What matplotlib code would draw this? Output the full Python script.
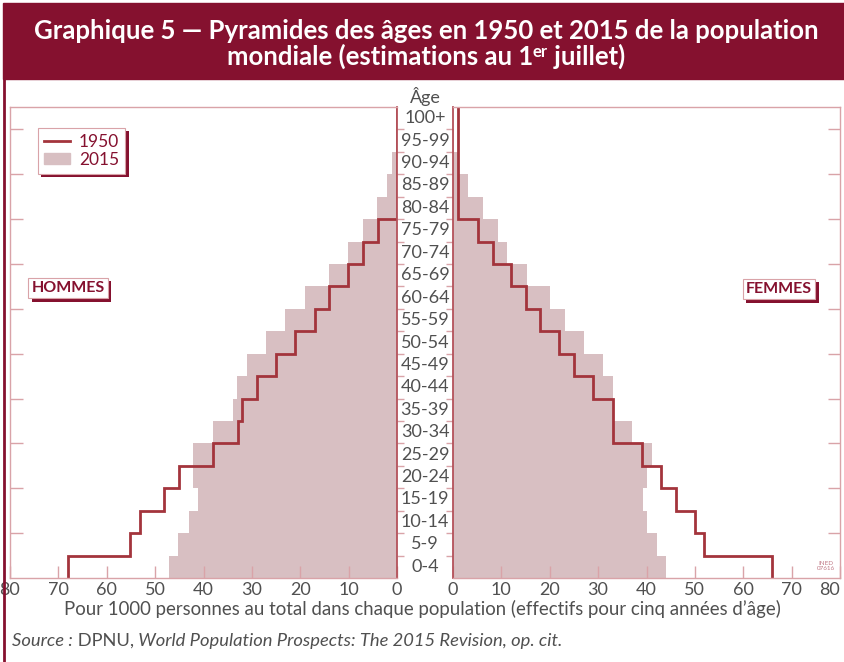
import matplotlib
matplotlib.use('Agg')
import matplotlib.pyplot as plt
import numpy as np
from matplotlib import font_manager
from matplotlib import patheffects as pe
from matplotlib.lines import Line2D
from matplotlib.patches import Patch, Rectangle
from matplotlib.transforms import blended_transform_factory

# pick a narrow font if there is one
names = {f.name for f in font_manager.fontManager.ttflist}
FONT = 'Liberation Sans Narrow' if 'Liberation Sans Narrow' in names else 'Lato'
plt.rcParams['font.family'] = [FONT, 'DejaVu Sans']

"Data: per 1000 persons, 5-year age groups"
ages = ['0-4', '5-9', '10-14', '15-19', '20-24', '25-29', '30-34', '35-39',
        '40-44', '45-49', '50-54', '55-59', '60-64', '65-69', '70-74',
        '75-79', '80-84', '85-89', '90-94', '95-99', '100+']
men_1950 = [68.0, 55.2, 53.1, 48.1, 45.0, 38.1, 32.9, 32.1, 29.0, 25.0, 21.0,
            16.9, 14.0, 10.1, 7.1, 3.9, 0.0, 0.0, 0.0, 0.0, 0.0]
men_2015 = [47.1, 45.2, 43.1, 41.2, 42.1, 42.1, 38.1, 34.0, 33.1, 31.1, 27.1,
            23.1, 19.0, 14.0, 10.1, 7.1, 4.2, 2.1, 1.1, 0.2, 0.0]
women_1950 = [66.0, 51.9, 50.0, 46.0, 42.9, 39.0, 33.0, 33.0, 29.0, 25.0, 22.0,
              18.0, 15.1, 12.0, 8.2, 5.1, 1.0, 1.0, 1.0, 1.0, 1.0]
women_2015 = [44.1, 42.1, 40.2, 39.2, 40.2, 41.2, 37.1, 33.0, 33.1, 31.1, 27.1,
              23.1, 20.0, 15.2, 11.2, 9.2, 6.1, 3.2, 1.3, 0.3, 0.0]
x_ticks = list(range(0, 81, 10))

#colours
DARK = '#85112f'
FILL = '#d8bfc2'
LINE = '#a3343c'
PINK = '#d9a3a8'
INNER = '#b4525a'
GREY = '#505050'

W, H = 844, 662
fig = plt.figure(figsize=(W / 100, H / 100), dpi=100)


def fx(px):
    return px / W


def fy(py):
    return 1 - py / H


def step_xy(v):
    edges = np.arange(len(v) + 1)
    xs = np.repeat(v, 2)
    ys = np.column_stack([edges[:-1], edges[1:]]).ravel()
    return xs, ys


def panel(ax, v1950, v2015, left):
    n = len(ages)
    ax.barh(np.arange(n), v2015, height=1, align='edge', color=FILL, linewidth=0)
    xs, ys = step_xy(v1950)
    ax.plot(xs, ys, color=LINE, lw=2, solid_joinstyle='miter')
    ax.set_ylim(0, n)
    if left:
        ax.set_xlim(80, 0)
    else:
        ax.set_xlim(0, 80)
    ax.set_xticks(x_ticks)
    ax.set_xticklabels([str(t) for t in x_ticks])
    ax.tick_params(axis='x', direction='in', length=9, width=1, color=PINK,
                   labelsize=13, labelcolor=GREY, pad=3)
    if not left:
        # the outermost "80" sits against the figure edge
        ax.get_xticklabels()[-1].set_horizontalalignment('right')
    ax.set_yticks(np.arange(2, n, 2))
    ax.set_yticks(np.arange(1, n), minor=True)
    ax.yaxis.remove_overlapping_locs = False
    ax.set_yticklabels([])
    # outer side: ticks every 10 years, inner side: ticks every 5 years
    outer_is_left = left
    ax.tick_params(axis='y', which='major', direction='in', length=9, width=1,
                   color=PINK, left=outer_is_left, right=not outer_is_left,
                   labelleft=False, labelright=False)
    ax.tick_params(axis='y', which='minor', direction='out', length=5, width=1,
                   color=PINK, left=not outer_is_left, right=outer_is_left)
    for s in ax.spines.values():
        s.set_color(PINK)
        s.set_linewidth(1)
    inner = 'right' if left else 'left'
    ax.spines[inner].set_color(INNER)
    ax.spines[inner].set_linewidth(1.3)
    ax.patch.set_alpha(0)


ax_l = fig.add_axes([fx(10), fy(578), fx(387), 471 / H])
ax_r = fig.add_axes([fx(453), fy(578), fx(387), 471 / H])
panel(ax_l, men_1950, men_2015, True)
panel(ax_r, women_1950, women_2015, False)

# age labels between the panels
tr = blended_transform_factory(fig.transFigure, ax_l.transData)
for i, a in enumerate(ages):
    ax_l.text(fx(425), i + 0.5, a, transform=tr, ha='center', va='center',
              fontsize=13, color=GREY, clip_on=False)
fig.text(fx(425), fy(97), 'Âge', ha='center', va='center', fontsize=13, color=GREY)

# title band
fig.patches.append(Rectangle((fx(3), fy(79)), 1 - fx(3), fy(3) - fy(79),
                             transform=fig.transFigure, color=DARK, zorder=0))
fig.add_artist(Line2D([fx(4), fx(4)], [0, fy(79)], color=DARK, lw=2))
fig.text(fx(426), fy(31), 'Graphique 5 — Pyramides des âges en 1950 et 2015 de la population',
         ha='center', va='center', fontsize=18.5, fontweight='bold', color='white')

r = fig.canvas.get_renderer()


def row_of_texts(parts, cx, y, align='center', **kw):
    objs = []
    for s, size, dy, style in parts:
        t = fig.text(0, y, s, ha='left', va='baseline', fontsize=size,
                     fontstyle=style, **kw)
        objs.append((t, dy))
    widths = [t.get_window_extent(r).width for t, _ in objs]
    x0 = cx - sum(widths) / 2 if align == 'center' else cx
    for (t, dy), w in zip(objs, widths):
        t.set_position((fx(x0), y + dy / H))
        x0 += w


row_of_texts([('mondiale (estimations au 1', 18.5, 0, 'normal'),
              ('er', 12, 8, 'normal'),
              (' juillet)', 18.5, 0, 'normal')],
             426, fy(65), fontweight='bold', color='white')

# legend
handles = [Line2D([], [], color=LINE, lw=2), Patch(color=FILL)]
leg = fig.legend(handles, ['1950', '2015'], loc='upper left',
                 bbox_to_anchor=(fx(38), fy(128)), fontsize=12.5, labelcolor=DARK,
                 frameon=True, fancybox=False, edgecolor=PINK, framealpha=1,
                 handlelength=1.5, handleheight=0.6, handletextpad=0.5,
                 borderpad=0.35, labelspacing=0.1, borderaxespad=0)
leg.get_frame().set_linewidth(0.8)
leg.get_frame().set_path_effects([pe.withSimplePatchShadow(offset=(2.5, -2.5),
                                  shadow_rgbFace=DARK, alpha=1)])

# sex labels
for lab, px, py in [('HOMMES', 68, 288), ('FEMMES', 779, 289)]:
    t = fig.text(fx(px), fy(py), lab, ha='center', va='center', fontsize=11.5,
                 fontweight='bold', color=DARK,
                 bbox=dict(boxstyle='square,pad=0.2', fc='white', ec=PINK, lw=0.8))
    t.get_bbox_patch().set_path_effects([pe.withSimplePatchShadow(
        offset=(2.5, -2.5), shadow_rgbFace=DARK, alpha=1)])

fig.text(fx(826), fy(566), 'INED\n07616', ha='center', va='center', fontsize=4.5,
         color='#c07885', linespacing=0.9)

fig.text(fx(422), fy(609),
         "Pour 1000 personnes au total dans chaque population (effectifs pour cinq années d’âge)",
         ha='center', va='center', fontsize=13.4, color=GREY)

row_of_texts([('Source :', 13.2, 0, 'italic'),
              (' DPNU,', 13.2, 0, 'normal'),
              (' World Population Prospects: The 2015 Revision, op. cit.', 13.2, 0, 'italic')],
             12, fy(646), align='left', color=GREY)

plt.savefig('out.png', dpi=100)
